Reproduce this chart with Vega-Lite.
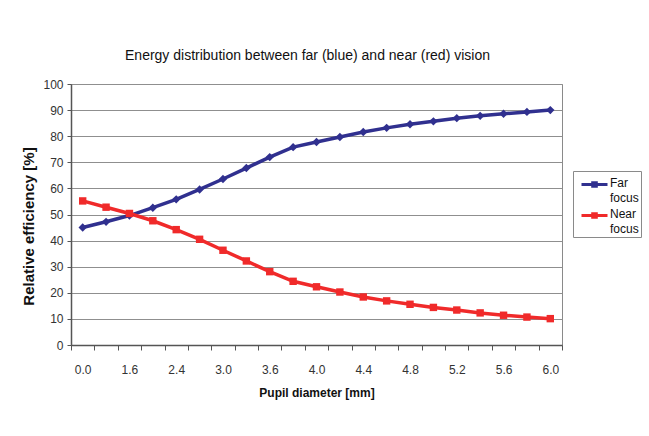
{
  "$schema": "https://vega.github.io/schema/vega-lite/v6.json",
  "autosize": "none",
  "width": 491,
  "height": 261,
  "padding": {"left": 71, "top": 84, "right": 87, "bottom": 91},
  "background": "white",
  "config": {
    "view": {"stroke": "#8a8a8a", "strokeWidth": 1},
    "font": "Liberation Sans, Arial"
  },
  "title": {
    "text": "Energy distribution between far (blue) and near (red) vision",
    "fontSize": 14,
    "fontWeight": "normal",
    "color": "#111111",
    "offset": 15,
    "dx": -9
  },
  "data": {
    "values": [
      {"d": "0.0", "series": "Far focus", "v": 45.0},
      {"d": "0.8", "series": "Far focus", "v": 47.2},
      {"d": "1.6", "series": "Far focus", "v": 49.6},
      {"d": "2.0", "series": "Far focus", "v": 52.6},
      {"d": "2.4", "series": "Far focus", "v": 55.8},
      {"d": "2.7", "series": "Far focus", "v": 59.6},
      {"d": "3.0", "series": "Far focus", "v": 63.6},
      {"d": "3.3", "series": "Far focus", "v": 67.8},
      {"d": "3.6", "series": "Far focus", "v": 72.0},
      {"d": "3.8", "series": "Far focus", "v": 75.8},
      {"d": "4.0", "series": "Far focus", "v": 77.8},
      {"d": "4.2", "series": "Far focus", "v": 79.7},
      {"d": "4.4", "series": "Far focus", "v": 81.6},
      {"d": "4.6", "series": "Far focus", "v": 83.2},
      {"d": "4.8", "series": "Far focus", "v": 84.6},
      {"d": "5.0", "series": "Far focus", "v": 85.7},
      {"d": "5.2", "series": "Far focus", "v": 86.9},
      {"d": "5.4", "series": "Far focus", "v": 87.8},
      {"d": "5.6", "series": "Far focus", "v": 88.6},
      {"d": "5.8", "series": "Far focus", "v": 89.3},
      {"d": "6.0", "series": "Far focus", "v": 90.0},
      {"d": "0.0", "series": "Near focus", "v": 55.2},
      {"d": "0.8", "series": "Near focus", "v": 52.8},
      {"d": "1.6", "series": "Near focus", "v": 50.4},
      {"d": "2.0", "series": "Near focus", "v": 47.6},
      {"d": "2.4", "series": "Near focus", "v": 44.2},
      {"d": "2.7", "series": "Near focus", "v": 40.5},
      {"d": "3.0", "series": "Near focus", "v": 36.3},
      {"d": "3.3", "series": "Near focus", "v": 32.2},
      {"d": "3.6", "series": "Near focus", "v": 28.1},
      {"d": "3.8", "series": "Near focus", "v": 24.4},
      {"d": "4.0", "series": "Near focus", "v": 22.3},
      {"d": "4.2", "series": "Near focus", "v": 20.3},
      {"d": "4.4", "series": "Near focus", "v": 18.4},
      {"d": "4.6", "series": "Near focus", "v": 16.9},
      {"d": "4.8", "series": "Near focus", "v": 15.6},
      {"d": "5.0", "series": "Near focus", "v": 14.4},
      {"d": "5.2", "series": "Near focus", "v": 13.4},
      {"d": "5.4", "series": "Near focus", "v": 12.3},
      {"d": "5.6", "series": "Near focus", "v": 11.4},
      {"d": "5.8", "series": "Near focus", "v": 10.7},
      {"d": "6.0", "series": "Near focus", "v": 10.1}
    ]
  },
  "encoding": {
    "x": {
      "field": "d",
      "type": "ordinal",
      "sort": null,
      "scale": {"type": "band", "paddingInner": 0, "paddingOuter": 0},
      "axis": {
        "title": "Pupil diameter [mm]",
        "titleFontSize": 12,
        "titleFontWeight": "bold",
        "titleColor": "#111111",
        "titlePadding": 12,
        "labelAngle": 0,
        "labelFontSize": 12,
        "labelColor": "#333333",
        "labelPadding": 14,
        "labelExpr": "indexof(['0.0','1.6','2.4','3.0','3.6','4.0','4.4','4.8','5.2','5.6','6.0'], datum.value) >= 0 ? datum.value : ''",
        "tickBand": "extent",
        "tickSize": 5,
        "tickColor": "#555555",
        "domainColor": "#555555",
        "domainWidth": 1.5,
        "grid": false,
        "labelOverlap": false
      }
    },
    "y": {
      "field": "v",
      "type": "quantitative",
      "scale": {"domain": [0, 100], "nice": false},
      "axis": {
        "title": "Relative efficiency [%]",
        "titleFontSize": 15,
        "titleFontWeight": "bold",
        "titleColor": "#111111",
        "titlePadding": 6,
        "titleY": 142,
        "values": [0, 10, 20, 30, 40, 50, 60, 70, 80, 90, 100],
        "labelFontSize": 12,
        "labelColor": "#333333",
        "labelPadding": 4,
        "tickSize": 4,
        "tickColor": "#555555",
        "domainColor": "#555555",
        "domainWidth": 1.5,
        "grid": true,
        "gridColor": "#8f8f8f",
        "gridWidth": 1
      }
    }
  },
  "layer": [
    {
      "mark": {"type": "line", "strokeWidth": 3.5},
      "encoding": {
        "color": {
          "field": "series",
          "type": "nominal",
          "scale": {"domain": ["Far focus", "Near focus"], "range": ["#30308f", "#f02a2a"]},
          "legend": {
            "title": null,
            "orient": "none",
            "legendX": 502,
            "legendY": 87,
            "padding": 2,
            "strokeColor": "#8a8a8a",
            "fillColor": "white",
            "labelFontSize": 12,
            "labelColor": "#111111",
            "labelBaseline": "top",
            "labelExpr": "split(datum.label, ' ')",
            "symbolType": "M-1.3,0L1.3,0M-0.18,-0.18L0.18,-0.18L0.18,0.18L-0.18,0.18Z",
            "symbolSize": 400,
            "symbolStrokeWidth": 3,
            "symbolOffset": 8,
            "rowPadding": 0,
            "labelOffset": 4,
            "encode": {
              "symbols": {
                "update": {
                  "fill": {"scale": "color", "field": "value"},
                  "stroke": {"scale": "color", "field": "value"},
                  "strokeWidth": {"value": 3}
                }
              },
              "labels": {
                "update": {"dy": {"value": -7}, "lineHeight": {"value": 15}}
              }
            }
          }
        }
      }
    },
    {
      "transform": [{"filter": "datum.series === 'Far focus'"}],
      "mark": {"type": "point", "filled": true, "opacity": 1, "shape": "diamond", "color": "#30308f", "size": 70}
    },
    {
      "transform": [{"filter": "datum.series === 'Near focus'"}],
      "mark": {"type": "point", "filled": true, "opacity": 1, "shape": "square", "color": "#f02a2a", "size": 55}
    }
  ]
}
